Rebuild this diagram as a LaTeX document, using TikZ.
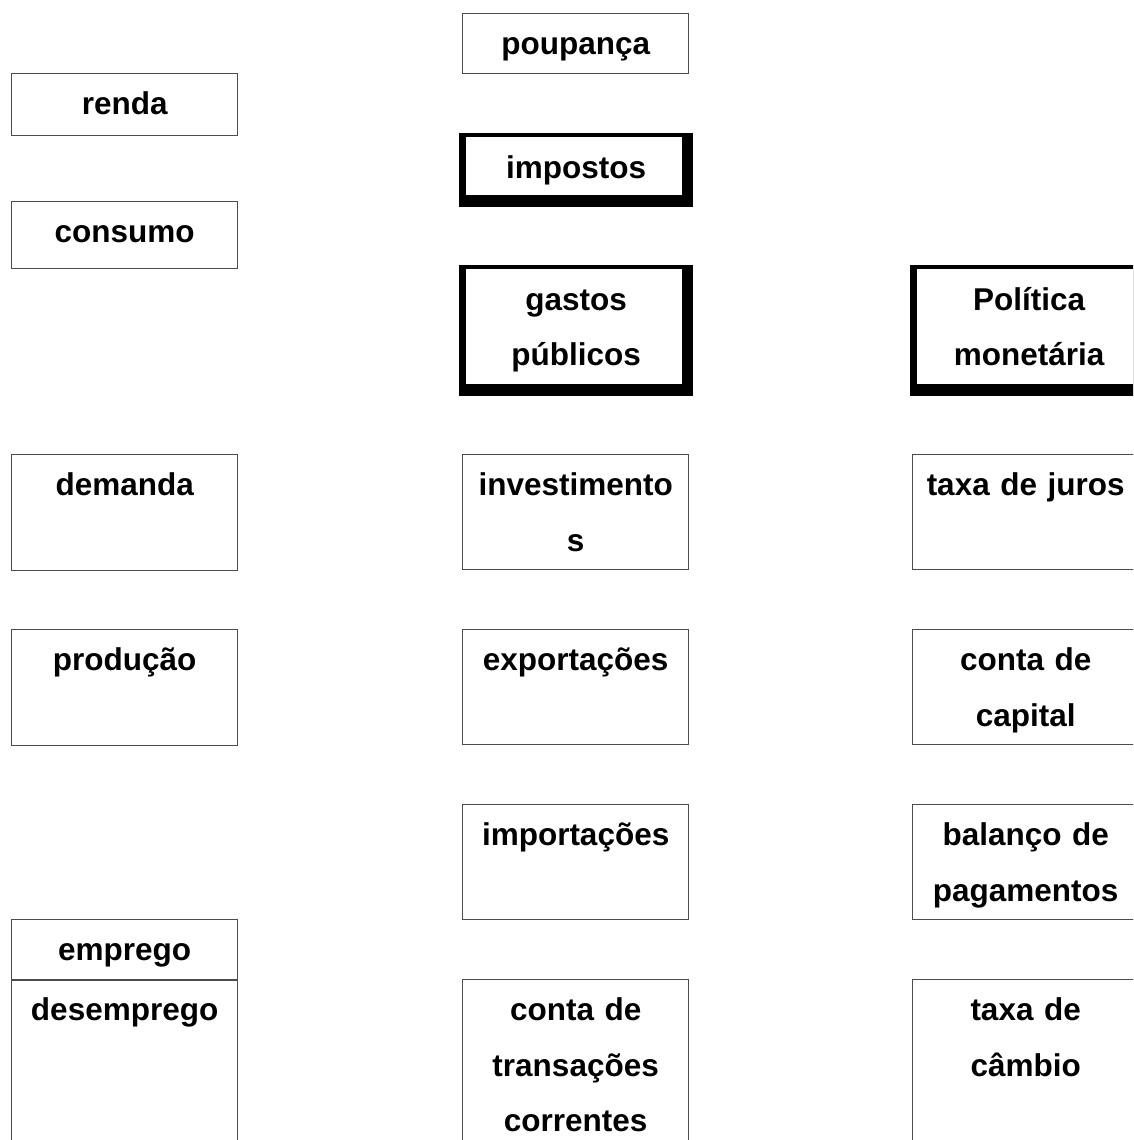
\documentclass[tikz,border=0pt]{standalone}
\usepackage{fontspec}
\setmainfont{Liberation Sans}
\newcommand{\cellfont}{\fontsize{31.5}{55.5}\selectfont\bfseries}
\tikzset{
  cell/.style={draw=black!70, line width=1.3pt, anchor=north west, inner sep=0pt,
    text width=226pt, align=center, text height=41pt, font=\cellfont},
  heavycell/.style={fill=black, anchor=north west, inner sep=0pt,
    text width=234pt, align=center, text height=45pt, font=\cellfont,
    path picture={\fill[white] ([xshift=7pt,yshift=12pt]path picture bounding box.south west)
      rectangle ([xshift=-11pt,yshift=-4pt]path picture bounding box.north east);}}
}
\begin{document}
\begin{tikzpicture}[x=1pt,y=-1pt]
        \useasboundingbox (0,0) rectangle (1133,1140);
        \clip (0,0) rectangle (1133,1140);

        \node[cell, text depth=21pt] (renda) at (11,73) {renda};
        \node[cell, text depth=26pt] (consumo) at (11,201) {consumo};
        \node[cell, text depth=75pt] (demanda) at (11,454) {demanda};
        \node[cell, text depth=75pt] (producao) at (11,629) {produção};
        \node[cell, text depth=20pt] (emprego) at (11,919) {emprego};
        \node[cell, text depth=160pt] (desemprego) at (11,979) {desemprego};

        \node[cell, text depth=19pt] (poupanca) at (462,13) {poupança};
        \node[heavycell, text depth=29pt] (impostos) at (459,133) {impostos};
        \node[heavycell, text depth=86pt] (gastos) at (459,265) {gastos\\públicos};
        \node[cell, text depth=74pt] (invest) at (462,454) {investimento\\s};
        \node[cell, text depth=74pt] (export) at (462,629) {exportações};
        \node[cell, text depth=74pt] (import) at (462,804) {importações};
        \node[cell, text depth=160pt] (ctc) at (462,979) {conta de\\transações\\correntes};

        \node[heavycell, text width=238pt, text depth=86pt] (politica) at (910,265) {Política\\monetária};
        \node[cell, text depth=74pt] (juros) at (912,454) {taxa de juros};
        \node[cell, text depth=74pt] (capital) at (912,629) {conta de\\capital};
        \node[cell, text depth=74pt] (balanco) at (912,804) {balanço de\\pagamentos};
        \node[cell, text depth=160pt] (cambio) at (912,979) {taxa de\\câmbio};
\end{tikzpicture}
\end{document}
